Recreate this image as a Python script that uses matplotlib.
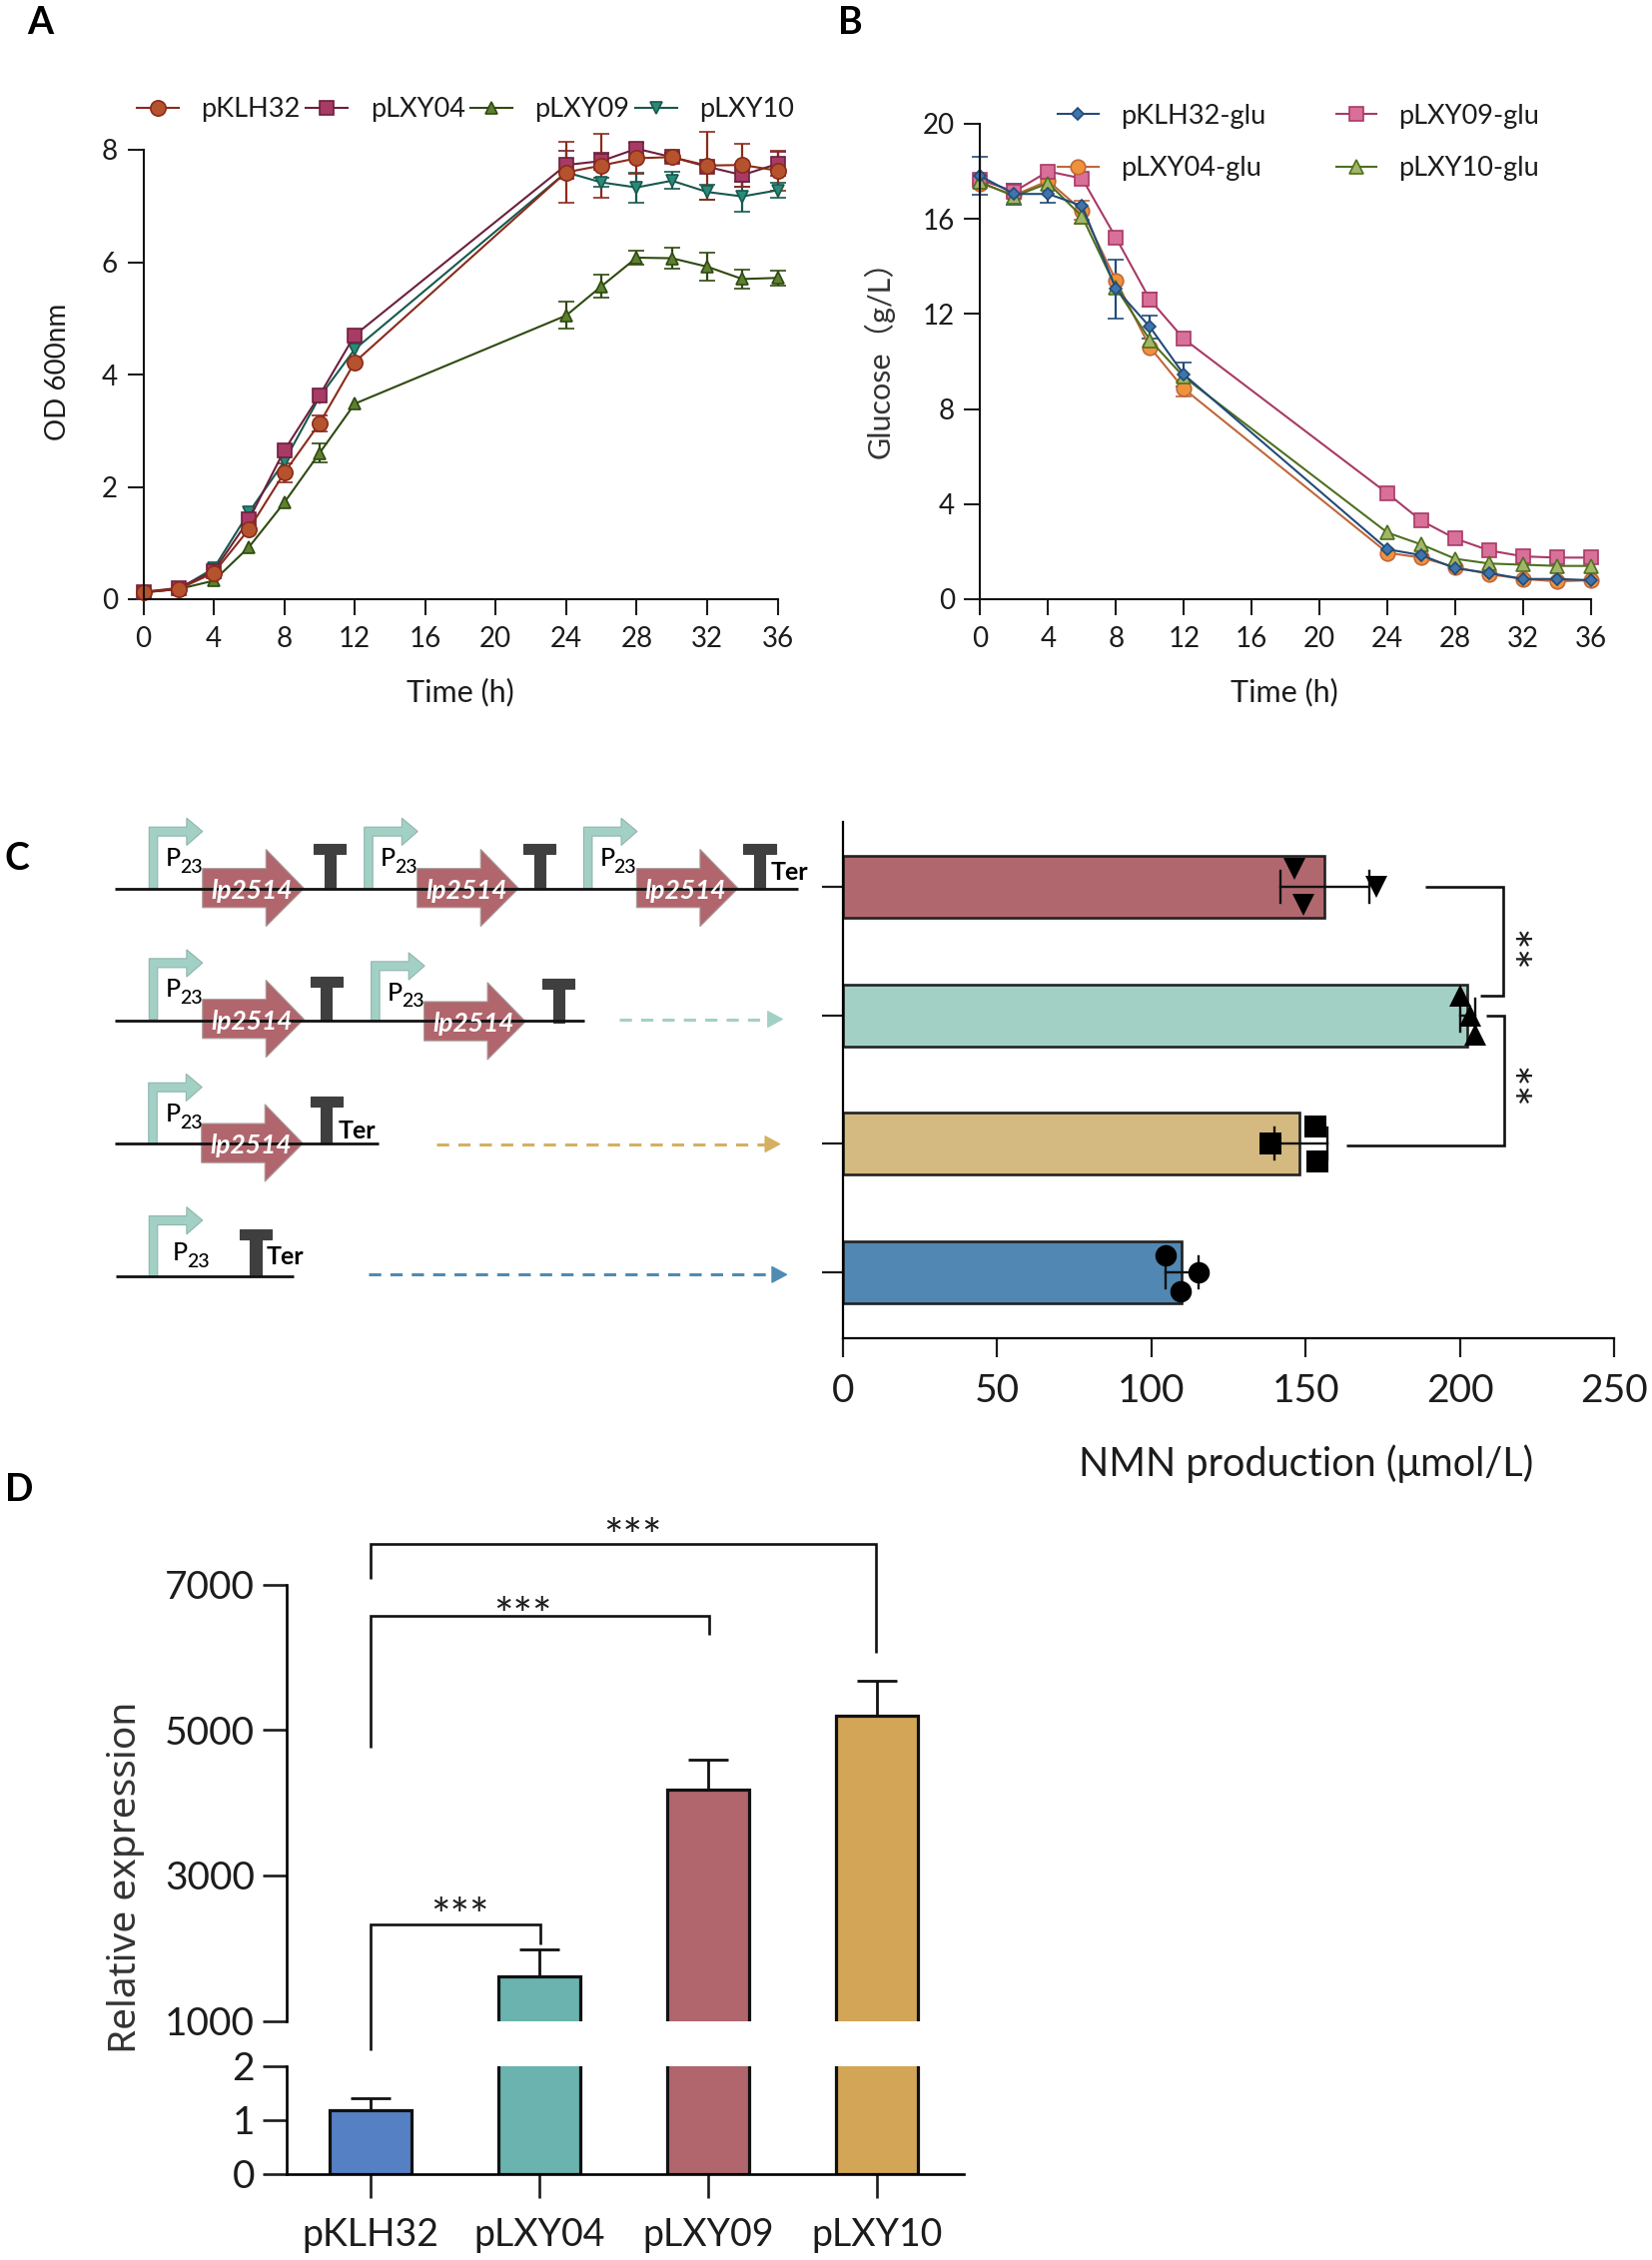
import matplotlib
matplotlib.use('Agg')
import matplotlib.pyplot as plt
from matplotlib.patches import Polygon
from matplotlib.lines import Line2D
import numpy as np

plt.rcParams['font.family'] = ['Lato', 'Noto Sans CJK SC', 'DejaVu Sans']
W, H = 1654, 2263
TXT = '#1c1c1c'
nan = float('nan')

# ---------- data ----------
time_h = [0, 2, 4, 6, 8, 10, 12, 24, 26, 28, 30, 32, 34, 36]
time_ticks = [0, 4, 8, 12, 16, 20, 24, 28, 32, 36]

od_klh32 = [0.12, 0.18, 0.47, 1.25, 2.25, 3.13, 4.22, 7.60, 7.72, 7.85, 7.87, 7.72, 7.73, 7.63]
od_klh32_err = [nan, nan, nan, nan, 0.17, 0.15, nan, 0.55, 0.57, 0.28, 0.07, 0.60, 0.38, 0.35]
od_lxy04 = [0.13, 0.20, 0.50, 1.42, 2.65, 3.63, 4.70, 7.73, 7.80, 8.02, 7.87, 7.70, 7.55, 7.75]
od_lxy04_err = [nan, nan, nan, nan, nan, nan, nan, 0.25, 0.15, nan, 0.07, nan, 0.20, 0.22]
od_lxy09 = [0.12, 0.18, 0.33, 0.93, 1.72, 2.60, 3.48, 5.05, 5.57, 6.08, 6.07, 5.92, 5.70, 5.72]
od_lxy09_err = [nan, nan, nan, nan, nan, 0.17, nan, 0.24, 0.20, 0.12, 0.18, 0.25, 0.17, 0.13]
od_lxy10 = [0.13, 0.18, 0.55, 1.55, 2.45, 3.60, 4.45, 7.60, 7.42, 7.33, 7.45, 7.25, 7.17, 7.28]
od_lxy10_err = [nan, nan, nan, nan, nan, nan, nan, nan, 0.08, 0.27, 0.15, 0.13, 0.27, 0.13]

glu_klh32 = [17.8, 17.05, 17.05, 16.55, 13.05, 11.45, 9.45, 2.10, 1.85, 1.30, 1.10, 0.85, 0.85, 0.80]
glu_klh32_err = [0.8, 0.45, 0.35, nan, 1.25, 0.50, 0.50, nan, nan, nan, nan, nan, nan, nan]
glu_lxy04 = [17.5, 17.0, 17.6, 16.35, 13.4, 10.6, 8.85, 1.95, 1.75, 1.35, 1.05, 0.85, 0.75, 0.80]
glu_lxy04_err = [nan, nan, nan, 0.40, nan, nan, 0.30, nan, nan, nan, nan, nan, nan, nan]
glu_lxy09 = [17.65, 17.15, 18.0, 17.7, 15.2, 12.6, 10.95, 4.45, 3.30, 2.55, 2.05, 1.80, 1.75, 1.75]
glu_lxy09_err = [nan, nan, nan, nan, nan, 0.30, nan, nan, nan, nan, nan, nan, nan, nan]
glu_lxy10 = [17.55, 16.95, 17.5, 16.1, 13.1, 10.9, 9.35, 2.80, 2.30, 1.70, 1.50, 1.45, 1.40, 1.40]
glu_lxy10_err = [nan, nan, nan, 0.30, nan, nan, nan, nan, nan, nan, nan, nan, nan, nan]

nmn_pos = [0, 1, 2, 3]
nmn_means = [109.7, 148.0, 202.3, 156.0]
nmn_err_low = [104.5, 139.8, 200.1, 141.7]
nmn_err_high = [115.4, 157.2, 204.9, 170.8]
nmn_points = [[104.7, 115.4, 109.5], [138.6, 153.2, 153.8], [200.0, 203.5, 205.0], [146.3, 173.0, 149.4]]
nmn_offsets = [[0.13, 0.0, -0.145], [0.0, 0.135, -0.135], [0.15, 0.0, -0.15], [0.14, 0.0, -0.14]]
nmn_markers = ['o', 's', '^', 'v']
nmn_colors = ['#5088b3', '#d4b980', '#a3d0c5', '#b0686e']
nmn_ticks = [0, 50, 100, 150, 200, 250]

expr_labels = ['pKLH32', 'pLXY04', 'pLXY09', 'pLXY10']
expr_values = [1.18, 1611, 4173, 5196]
expr_tops = [1.39, 1982, 4585, 5670]
expr_colors = ['#5580c4', '#6ab3ae', '#b0666c', '#d3a557']
expr_ticks_up = [1000, 3000, 5000, 7000]
expr_ticks_low = [0, 1, 2]


# ---------- helpers ----------
def axpx(x0, y0, x1, y1):
    return fig.add_axes([x0 / W, 1 - y1 / H, (x1 - x0) / W, (y1 - y0) / H])


def style_line_axes(ax, yticks, ylim):
    ax.set_xlim(0, 36)
    ax.set_ylim(*ylim)
    ax.set_xticks(time_ticks)
    ax.set_yticks(yticks)
    for s in ('top', 'right'):
        ax.spines[s].set_visible(False)
    for s in ('left', 'bottom'):
        ax.spines[s].set_linewidth(1.5)
        ax.spines[s].set_color('#111111')
    ax.tick_params(axis='both', width=1.5, length=11.5, labelsize=20, colors=TXT, pad=7)
    ax.tick_params(axis='x', pad=8)
    ax.patch.set_alpha(0)


def draw_series(ax, y, e, line, fill, marker, ms):
    ax.errorbar(time_h, y, yerr=e, color=line, lw=1.5, elinewidth=1.6, capsize=5.5, capthick=1.6,
                marker=marker, ms=ms, mfc=fill, mec=line, mew=1.2, clip_on=False)
    return Line2D([], [], color=line, lw=1.5, marker=marker, ms=ms, mfc=fill, mec=line, mew=1.2)


fig = plt.figure(figsize=(W / 100, H / 100), dpi=100, facecolor='white')

# ---------- panel A ----------
axA = axpx(143.5, 150, 778.5, 600)
style_line_axes(axA, [0, 2, 4, 6, 8], (0, 8))
h10 = draw_series(axA, od_lxy10, od_lxy10_err, '#17594f', '#2a8a78', 'v', 9)
h09 = draw_series(axA, od_lxy09, od_lxy09_err, '#2f4a10', '#5d8030', '^', 9)
h04 = draw_series(axA, od_lxy04, od_lxy04_err, '#6d1f3c', '#a83a66', 's', 9.5)
h32 = draw_series(axA, od_klh32, od_klh32_err, '#8b2a1a', '#b5532f', 'o', 11)
axA.legend([h32, h04, h09, h10], ['pKLH32', 'pLXY04', 'pLXY09', 'pLXY10'],
           loc='center left', bbox_to_anchor=(137 / W, 1 - 110 / H), bbox_transform=fig.transFigure,
           ncols=4, frameon=False, fontsize=19.5, handlelength=1.54, handletextpad=0.84,
           columnspacing=0.2, borderpad=0, borderaxespad=0, labelcolor=TXT)

# ---------- panel B ----------
axB = axpx(981.5, 124, 1593, 600)
style_line_axes(axB, [0, 4, 8, 12, 16, 20], (0, 20))
b04 = draw_series(axB, glu_lxy04, glu_lxy04_err, '#c0673a', '#f0923c', 'o', 10.5)
b09 = draw_series(axB, glu_lxy09, glu_lxy09_err, '#a83a66', '#d9709a', 's', 10.5)
b10 = draw_series(axB, glu_lxy10, glu_lxy10_err, '#4e7020', '#a3b566', '^', 10.5)
b32 = draw_series(axB, glu_klh32, glu_klh32_err, '#224b78', '#3f74ad', 'D', 6)
axB.legend([b32, b04, b09, b10], ['pKLH32-glu', 'pLXY04-glu', 'pLXY09-glu', 'pLXY10-glu'],
           loc='center left', bbox_to_anchor=(1059 / W, 1 - 142.5 / H), bbox_transform=fig.transFigure,
           ncols=2, frameon=False, fontsize=19.5, handlelength=1.5, handletextpad=0.82,
           columnspacing=2.6, labelspacing=1.0, borderpad=0, borderaxespad=0, labelcolor=TXT)

# ---------- panel C bars ----------
axC = axpx(844, 823, 1616, 1340)
axC.set_xlim(0, 250)
axC.set_ylim(-0.513, 3.504)
axC.barh(nmn_pos, nmn_means, height=0.482, color=nmn_colors, edgecolor='#222222', linewidth=1.9, zorder=2)
for p, lo, hi, pts, off, m in zip(nmn_pos, nmn_err_low, nmn_err_high, nmn_points, nmn_offsets, nmn_markers):
    axC.plot([lo, hi], [p, p], color='#111111', lw=1.7, zorder=3)
    for v in (lo, hi):
        axC.plot([v, v], [p - 0.125, p + 0.125], color='#111111', lw=1.7, zorder=3)
    axC.plot(pts, np.array(off) + p, ls='none', marker=m, ms=15.5, color='black', mew=0, zorder=4, clip_on=False)
axC.set_xticks(nmn_ticks)
axC.set_yticks(nmn_pos)
axC.set_yticklabels([])
for s in ('top', 'right'):
    axC.spines[s].set_visible(False)
for s in ('left', 'bottom'):
    axC.spines[s].set_linewidth(1.6)
axC.tick_params(axis='x', width=1.6, length=14, labelsize=28, colors=TXT, pad=11)
axC.tick_params(axis='y', width=1.6, length=15, colors=TXT)
axC.patch.set_alpha(0)

# ---------- panel D ----------
axDu = axpx(287, 1586.5, 965, 2023.5)
axDl = axpx(287, 2068.5, 965, 2176.5)
xpos = np.arange(4)
for ax, lim in ((axDu, (1000, 7000)), (axDl, (0, 2))):
    ax.set_xlim(-0.497, 3.515)
    ax.set_ylim(*lim)
    ax.bar(xpos, expr_values, width=0.485, color=expr_colors, edgecolor='#111111', linewidth=2.3, zorder=2)
    for x, v, t in zip(xpos, expr_values, expr_tops):
        ax.errorbar([x], [v], yerr=[[0], [t - v]], color='#111111', lw=2, capsize=14.5, capthick=2, zorder=1)
    for s in ('top', 'right'):
        ax.spines[s].set_visible(False)
    ax.spines['left'].set_linewidth(1.9)
    ax.patch.set_alpha(0)
axDu.spines['bottom'].set_visible(False)
axDu.set_xticks([])
axDu.set_yticks(expr_ticks_up)
axDu.tick_params(axis='y', width=1.9, length=17, labelsize=28, colors=TXT, pad=6)
axDl.set_yticks(expr_ticks_low)
axDl.tick_params(axis='y', width=1.9, length=17, labelsize=28, colors=TXT, pad=6)
axDl.spines['bottom'].set_linewidth(1.9)
axDl.set_xticks(xpos)
axDl.set_xticklabels(expr_labels)
axDl.tick_params(axis='x', width=1.9, length=17, labelsize=27, colors=TXT, pad=14)

# ---------- overlay in pixel space ----------
ov = fig.add_axes([0, 0, 1, 1], zorder=10)
ov.set_xlim(0, W)
ov.set_ylim(H, 0)
ov.axis('off')
ov.patch.set_alpha(0)


def T(x, y, s, size, **kw):
    kw.setdefault('ha', 'center')
    kw.setdefault('va', 'center')
    kw.setdefault('color', TXT)
    return ov.text(x, y, s, fontsize=size, **kw)


def poly(*xy):
    ov.plot([p[0] for p in xy], [p[1] for p in xy], color='#111111', lw=1.9, solid_joinstyle='miter',
            solid_capstyle='butt')


# panel letters
for s, x, y in (('A', 40, 23), ('B', 851, 23), ('C', 17, 860), ('D', 19, 1492)):
    T(x, y, s, 27, fontweight='bold', color='black')

# axis titles
T(58, 372, 'OD 600nm', 20, rotation=90)
T(461, 693, 'Time (h)', 22)
T(880, 352, 'Glucose（g/L）', 22, rotation=90, color='#333333')
T(1286, 693, 'Time (h)', 22)
T(1308, 1466, 'NMN production (μmol/L)', 28.5)
T(126, 1880, 'Relative expression', 28, rotation=90, family=['Noto Sans', 'DejaVu Sans'], color='#333333')

# panel C significance
poly((1427, 888.4), (1504.6, 888.4), (1504.6, 997), (1482, 997))
poly((1488, 1017), (1506, 1017), (1506, 1147), (1348, 1147))
T(1540, 946, '**', 36, rotation=90)
T(1540, 1083, '**', 36, rotation=90)

# panel D significance
poly((371, 1581), (371, 1545.5), (877, 1545.5), (877, 1655))
poly((371, 1750), (371, 1618), (710, 1618), (710, 1637))
poly((371, 2052.5), (371, 1927), (541, 1927), (541, 1946.5))
T(633, 1541, '***', 33)
T(523, 1620, '***', 33)
T(460, 1921, '***', 33)

# ---------- schematic (panel C) ----------
zx = lambda z: z / 1.889
zy = lambda z: 800 + z / 3.015


def shape(points, fc, ec):
    ov.add_patch(Polygon([(zx(a), zy(b)) for a, b in points], closed=True, fc=fc, ec=ec, lw=0.8))


def baseline(x0, x1, y):
    ov.plot([zx(x0), zx(x1)], [zy(y), zy(y)], color='#111111', lw=2.0, solid_capstyle='butt')


def promoter(x, base, top):
    shape([(x, base), (x, top), (x + 71, top), (x + 71, top - 27), (x + 101, top + 13), (x + 71, top + 55),
           (x + 71, top + 27), (x + 16, top + 27), (x + 16, base)], '#a3d0c5', '#8fb5ac')


def gene(x, c):
    shape([(x, c - 60), (x + 120, c - 60), (x + 120, c - 118), (x + 192, c), (x + 120, c + 115), (x + 120, c + 58),
           (x, c + 58)], '#b0666c', '#a89a9a')
    T(zx(x + 93), zy(c + 6), 'lp2514', 19, color='white', style='italic', fontweight='bold')


def term(x, top, base):
    shape([(x, top), (x + 61, top), (x + 61, top + 30), (x + 41, top + 30), (x + 41, base), (x + 20, base),
           (x + 20, top + 30), (x, top + 30)], '#3f3f3f', '#3f3f3f')


def p23(x, y):
    T(zx(x), zy(y), 'P', 18, ha='left', color='black', fontweight='medium')
    T(zx(x + 27), zy(y + 27), '23', 14, ha='left', color='black', fontweight='medium')


def ter(x, y):
    T(zx(x), zy(y), 'Ter', 18, ha='left', color='black', fontweight='bold')


def dashed(x0, x1, y, col):
    ov.plot([zx(x0), zx(x1 - 20)], [zy(y), zy(y)], color=col, lw=2.2, ls=(0, (4, 3)))
    shape([(x1 - 28, y - 24), (x1, y), (x1 - 28, y + 24)], col, col)


# row 1
baseline(218, 1510, 272)
for x in (282, 689, 1104):
    promoter(x, 270, 85)
for x in (383, 789, 1204):
    gene(x, 270)
for x in (593, 990, 1406):
    term(x, 137, 272)
for x in (313, 719, 1134):
    p23(x, 180)
ter(1458, 222)

# row 2
baseline(218, 1105, 670)
promoter(282, 665, 482)
promoter(702, 672, 491)
gene(383, 665)
gene(802, 672)
term(587, 538, 670)
term(1026, 542, 675)
p23(313, 575)
p23(733, 585)
dashed(1172, 1480, 665, '#a3d0c5')

# row 3
baseline(218, 716, 1039)
promoter(281, 1040, 857)
gene(381, 1040)
term(587, 899, 1039)
p23(313, 950)
ter(640, 1002)
dashed(825, 1475, 1042, '#d4b060')

# row 4
baseline(220, 555, 1441)
promoter(282, 1441, 1259)
term(453, 1300, 1441)
p23(327, 1370)
ter(503, 1382)
dashed(697, 1488, 1436, '#4f8bb3')

fig.savefig('out.png', dpi=100, facecolor='white')
